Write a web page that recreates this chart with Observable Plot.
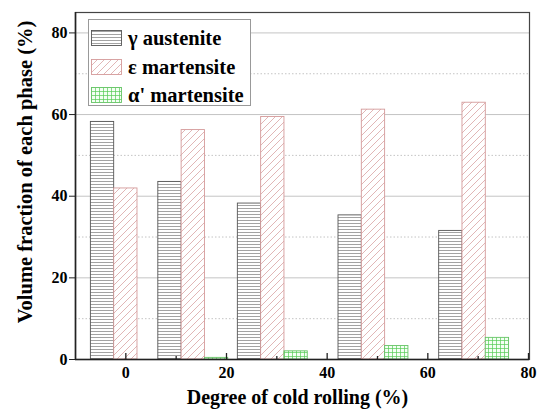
<!DOCTYPE html>
<html>
<head>
<meta charset="utf-8">
<script src="https://cdn.jsdelivr.net/npm/d3@7"></script>
<script src="https://cdn.jsdelivr.net/npm/@observablehq/plot@0.6"></script>
<style>
  html, body { margin: 0; padding: 0; background: #fff; }
  #wrap { position: relative; width: 537px; height: 409px; font-family: 'Liberation Serif', 'DejaVu Serif', 'Noto Serif', serif; }
  #wrap svg text { font-family: 'Liberation Serif', 'DejaVu Serif', 'Noto Serif', serif; }
  #legend { position: absolute; left: 88px; top: 19px; width: 161px; height: 85px; border: 1px solid #999; background: #fff; }
  .row { position: absolute; left: 2px; height: 16px; display: flex; align-items: center; }
  .row svg { display: block; }
  .row span { margin-left: 6px; font-weight: bold; font-size: 20.5px; color: #000; white-space: nowrap; line-height: 16px; }
</style>
</head>
<body>
<div id="wrap"></div>
<script>
// ---- data ----
const degrees = [0, 13.4, 29.2, 49.2, 69.2];          // cold-rolling degree (%) of each bar group
const gammaAustenite = [58.2, 43.5, 38.2, 35.3, 31.5]; // γ austenite (%)
const epsMartensite  = [41.9, 56.2, 59.4, 61.2, 62.9]; // ε martensite (%)
const alphaMartensite = [0, 0.4, 2.0, 3.3, 5.3];       // α' martensite (%)
const seriesNames = ["γ austenite", "ε martensite", "α' martensite"];
const xTicks = [0, 20, 40, 60, 80];
const xMinorTicks = [10, 30, 50, 70];
const yTicks = [0, 20, 40, 60, 80];
const yMinorTicks = [10, 30, 50, 70];
const xTitle = "Degree of cold rolling (%)";
const yTitle = "Volume fraction of each phase (%)";

const barW = 4.63; // bar width in data units
const fills = ["url(#patGamma)", "url(#patEps)", "url(#patAlpha)"];
const strokes = ["#555", "#d49a9a", "#66c466"];
const seriesValues = [gammaAustenite, epsMartensite, alphaMartensite];

const rows = seriesValues.map((vals, k) =>
  degrees.map((d, i) => ({k, c: d + (k - 1) * barW, v: vals[i]})).filter(r => r.v > 0));

const font = "'Liberation Serif', 'DejaVu Serif', 'Noto Serif', serif";

const barMark = k => Plot.rect(rows[k], {
  x1: r => r.c - barW / 2, x2: r => r.c + barW / 2, y1: 0, y2: r => r.v,
  fill: fills[k], stroke: strokes[k], strokeWidth: 0.9
});

const chart = Plot.plot({
  width: 537, height: 409,
  marginLeft: 75, marginRight: 8, marginTop: 12, marginBottom: 50,
  style: {fontFamily: font, fontWeight: "bold", fontSize: "16px", color: "#000", background: "#fff"},
  x: {domain: [-10, 80.2]},
  y: {domain: [0, 85]},
  marks: [
    Plot.gridY(yMinorTicks, {stroke: "#c4c4c4", strokeOpacity: 1, strokeDasharray: "1.5,2"}),
    Plot.gridY(yTicks.filter(t => t > 0), {stroke: "#c4c4c4", strokeOpacity: 1}),
    barMark(0), barMark(1), barMark(2),
    Plot.frame({stroke: "#444", strokeWidth: 1.2}),
    Plot.ruleX([-10], {stroke: "#222", strokeWidth: 1.6}),
    Plot.ruleY([0], {stroke: "#222", strokeWidth: 1.6}),
    Plot.axisY({ticks: yTicks, tickSize: 6, tickPadding: 2, fontSize: 16, label: null, stroke: "#222"}),
    Plot.axisX({ticks: xTicks, tickSize: 0, tickPadding: 7, fontSize: 16, label: null}),
    Plot.axisX({ticks: xTicks, tickSize: 6, dy: -6, tickFormat: () => "", label: null, stroke: "#222", strokeWidth: 1.3}),
    Plot.axisX({ticks: xMinorTicks, tickSize: 3, dy: -3, tickFormat: () => "", label: null, stroke: "#222", strokeWidth: 1.3}),
    Plot.text([xTitle], {frameAnchor: "bottom", dx: -5, dy: 38, text: d => d, fontSize: 20, fontWeight: "bold", textAnchor: "middle", lineAnchor: "middle"}),
    Plot.text([yTitle], {frameAnchor: "left", dx: -50, dy: -14, rotate: -90, text: d => d, fontSize: 20.5, fontWeight: "bold", textAnchor: "middle", lineAnchor: "middle"})
  ]
});

// patterns for the hatched fills
const ns = "http://www.w3.org/2000/svg";
const defs = document.createElementNS(ns, "defs");
defs.innerHTML = `
  <pattern id="patGamma" patternUnits="userSpaceOnUse" width="8" height="3">
    <rect width="8" height="3" fill="#fff"/>
    <line x1="0" y1="1.5" x2="8" y2="1.5" stroke="#8c8c8c" stroke-width="0.8"/>
  </pattern>
  <pattern id="patEps" patternUnits="userSpaceOnUse" width="7" height="7">
    <rect width="7" height="7" fill="#fff"/>
    <path d="M-1,1 L1,-1 M0,7 L7,0 M6,8 L8,6" stroke="#d9a3a3" stroke-width="0.8"/>
  </pattern>
  <pattern id="patAlpha" patternUnits="userSpaceOnUse" width="4" height="4">
    <rect width="4" height="4" fill="#f4fff4"/>
    <path d="M0,0.5 H4 M0.5,0 V4" stroke="#55cc55" stroke-width="0.7"/>
  </pattern>`;
chart.insertBefore(defs, chart.firstChild);

const wrap = document.getElementById("wrap");
wrap.appendChild(chart);

// legend
const legend = document.createElement("div");
legend.id = "legend";
seriesNames.forEach((name, k) => {
  const row = document.createElement("div");
  row.className = "row";
  row.style.top = (10 + k * 28.5) + "px";
  row.innerHTML = `<svg width="31" height="16"><rect x="0.5" y="0.5" width="30" height="15" fill="${fills[k]}" stroke="${strokes[k]}" stroke-width="0.9"/></svg><span>${name}</span>`;
  legend.appendChild(row);
});
wrap.appendChild(legend);
</script>
</body>
</html>
